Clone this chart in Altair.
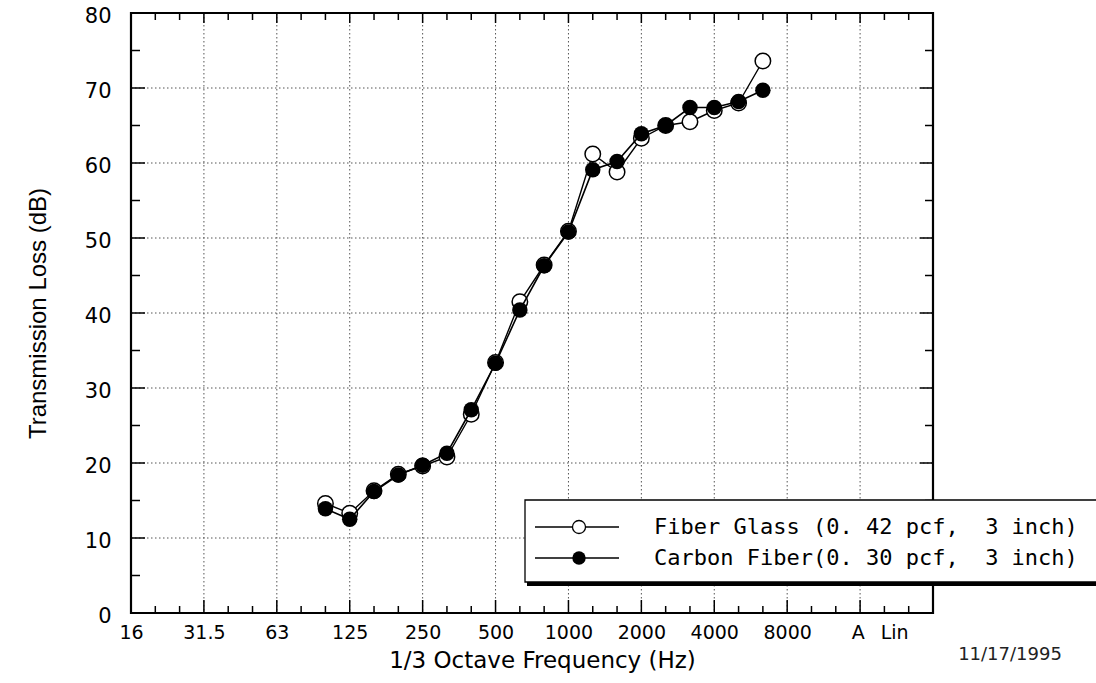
import altair as alt
import pandas as pd

# 1/3-octave band positions along the x axis (index = position)
bands = ["16", "20", "25", "31.5", "40", "50", "63", "80", "100", "125", "160", "200",
         "250", "315", "400", "500", "630", "800", "1000", "1250", "1600", "2000",
         "2500", "3150", "4000", "5000", "6300", "8000", "10000", "12500", "16000",
         "20000", "25000"]

freqs = ["100", "125", "160", "200", "250", "315", "400", "500", "630", "800", "1000",
         "1250", "1600", "2000", "2500", "3150", "4000", "5000", "6300"]
fiber_glass = [14.6, 13.3, 16.3, 18.5, 19.6, 20.8, 26.5, 33.4, 41.5, 46.4, 50.9,
               61.2, 58.8, 63.3, 65.0, 65.5, 67.0, 68.0, 73.6]
carbon_fiber = [13.9, 12.5, 16.2, 18.4, 19.7, 21.3, 27.1, 33.3, 40.4, 46.3, 50.8,
                59.1, 60.2, 63.9, 65.0, 67.4, 67.4, 68.2, 69.7]

x_label_text = ["16", "31.5", "63", "125", "250", "500", "1000", "2000", "4000", "8000", "A", "Lin"]
x_label_pos = [0, 3, 6, 9, 12, 15, 18, 21, 24, 27, 29.9, 31.4]
y_ticks = [0, 10, 20, 30, 40, 50, 60, 70, 80]
legend_labels = ["Fiber Glass (0. 42 pcf,\u00a0 3 inch)", "Carbon Fiber(0. 30 pcf,\u00a0 3 inch)"]
date_text = "11/17/1995"

W, H = 802, 600
xs = alt.Scale(domain=[0, 33], nice=False, zero=False)
ys = alt.Scale(domain=[0, 80], nice=False, zero=False)

df_fg = pd.DataFrame({"idx": [bands.index(f) for f in freqs], "v": fiber_glass})
df_cf = pd.DataFrame({"idx": [bands.index(f) for f in freqs], "v": carbon_fiber})

n_band = 33
major_x = pd.DataFrame({"idx": [i for i in range(1, n_band) if i % 3 == 0]})
minor_x = pd.DataFrame({"idx": [i for i in range(1, n_band) if i % 3 != 0]})
grid_x = pd.DataFrame({"idx": [i for i in range(3, 31, 3)]})
grid_y = pd.DataFrame({"v": [v for v in y_ticks if 0 < v < 80]})
major_y = pd.DataFrame({"v": [v for v in range(10, 80, 10)]})
minor_y = pd.DataFrame({"v": [v for v in range(5, 80, 10)]})

expr = ""
for p, t in zip(x_label_pos, x_label_text):
    expr += f"abs(datum.value - {p}) < 0.01 ? '{t}' : "
expr += "''"

x_axis = alt.Axis(values=x_label_pos, labelExpr=expr, domain=False, ticks=False, grid=False,
                  labelFont="DejaVu Sans", labelFontSize=19, labelColor="black",
                  labelPadding=10, labelFlush=False, labelOverlap=False, labelBound=False,
                  title="1/3 Octave Frequency (Hz)", titleFont="DejaVu Sans", titleFontSize=23,
                  titleFontWeight="normal", titleColor="black", titleX=411, titleY=47,
                  titleBaseline="middle", titleAlign="center")
y_axis = alt.Axis(values=y_ticks, domain=False, ticks=False, grid=False,
                  labelFont="DejaVu Sans", labelFontSize=21, labelColor="black",
                  labelPadding=20, labelOffset=3, labelFlush=False, labelOverlap=False,
                  title="Transmission Loss (dB)", titleFont="Liberation Sans", titleFontSize=24,
                  titleFontWeight="normal", titleColor="black", titleAngle=270,
                  titleX=-93, titleY=300, titleBaseline="middle", titleAlign="center")


def X(field="idx"):
    return alt.X(f"{field}:Q", scale=xs, axis=x_axis)


def Y(field="v"):
    return alt.Y(f"{field}:Q", scale=ys, axis=y_axis)


dot = dict(color="#555555", strokeWidth=1, strokeDash=[1.5, 2.5])

gx = alt.Chart(grid_x).mark_rule(**dot).encode(x=X(), y=alt.value(0), y2=alt.value(H))
gy = alt.Chart(grid_y).mark_rule(**dot).encode(y=Y(), x=alt.value(0), x2=alt.value(W))

tick_style = dict(color="black", strokeWidth=1.5)
tb_major = alt.Chart(major_x).mark_rule(**tick_style).encode(x=X(), y=alt.value(H), y2=alt.value(H - 13))
tb_minor = alt.Chart(minor_x).mark_rule(**tick_style).encode(x=X(), y=alt.value(H), y2=alt.value(H - 7))
tt_major = alt.Chart(major_x).mark_rule(**tick_style).encode(x=X(), y=alt.value(0), y2=alt.value(10))
tt_minor = alt.Chart(minor_x).mark_rule(**tick_style).encode(x=X(), y=alt.value(0), y2=alt.value(7))
tl_major = alt.Chart(major_y).mark_rule(**tick_style).encode(y=Y(), x=alt.value(0), x2=alt.value(14))
tl_minor = alt.Chart(minor_y).mark_rule(**tick_style).encode(y=Y(), x=alt.value(0), x2=alt.value(9))
tr_major = alt.Chart(major_y).mark_rule(**tick_style).encode(y=Y(), x=alt.value(W), x2=alt.value(W - 13))
tr_minor = alt.Chart(minor_y).mark_rule(**tick_style).encode(y=Y(), x=alt.value(W), x2=alt.value(W - 8))

one = pd.DataFrame({"a": [0]})
frame = alt.Chart(one).mark_rect(fill="transparent", stroke="black", strokeWidth=2.2).encode(
    x=alt.value(0), x2=alt.value(W), y=alt.value(0), y2=alt.value(H))

fg_line = alt.Chart(df_fg).mark_line(color="black", strokeWidth=1.4).encode(x=X(), y=Y())
fg_pts = alt.Chart(df_fg).mark_point(shape="circle", filled=True, fill="white", stroke="black",
                                     strokeWidth=1.5, size=240, opacity=1).encode(x=X(), y=Y())
cf_line = alt.Chart(df_cf).mark_line(color="black", strokeWidth=1.6).encode(x=X(), y=Y())
cf_pts = alt.Chart(df_cf).mark_point(shape="circle", filled=True, color="black",
                                     size=240, opacity=1).encode(x=X(), y=Y())

# legend box
lx0, lx1, ly0, ly1 = 394, 975, 487, 569
shadow = alt.Chart(one).mark_rect(fill="black").encode(
    x=alt.value(lx0 + 2), x2=alt.value(lx1 + 5), y=alt.value(ly0 + 2), y2=alt.value(ly1 + 4))
box = alt.Chart(one).mark_rect(fill="white", stroke="black", strokeWidth=1.3).encode(
    x=alt.value(lx0), x2=alt.value(lx1), y=alt.value(ly0), y2=alt.value(ly1))

row_y = [514, 545]
leg_layers = []
for i, lab in enumerate(legend_labels):
    ry = row_y[i]
    leg_layers.append(alt.Chart(one).mark_rule(color="black", strokeWidth=1.3).encode(
        x=alt.value(404), x2=alt.value(488), y=alt.value(ry)))
    if i == 0:
        sym = alt.Chart(one).mark_point(shape="circle", filled=True, fill="white", stroke="black",
                                        strokeWidth=1.3, size=170, opacity=1)
    else:
        sym = alt.Chart(one).mark_point(shape="circle", filled=True, color="black",
                                        size=180, opacity=1)
    leg_layers.append(sym.encode(x=alt.value(448), y=alt.value(ry)))
    leg_layers.append(alt.Chart(pd.DataFrame({"t": [lab]})).mark_text(
        align="left", baseline="middle", font="DejaVu Sans Mono", fontSize=22, color="black"
    ).encode(x=alt.value(523), y=alt.value(ry), text="t:N"))

date = alt.Chart(pd.DataFrame({"t": [date_text]})).mark_text(
    align="center", baseline="middle", font="DejaVu Sans", fontSize=18, color="#222222"
).encode(x=alt.value(879), y=alt.value(642), text="t:N")

chart = alt.layer(
    gx, gy, tb_major, tb_minor, tt_major, tt_minor, tl_major, tl_minor, tr_major, tr_minor,
    frame, fg_line, fg_pts, cf_line, cf_pts, shadow, box, *leg_layers, date
).properties(
    width=W, height=H,
    autosize=alt.AutoSizeParams(type="none"),
    padding={"left": 131, "top": 13, "right": 163, "bottom": 70},
    background="white",
).configure_view(strokeWidth=0)

chart.save("out.html", embed_options={"renderer": "svg", "actions": False})
